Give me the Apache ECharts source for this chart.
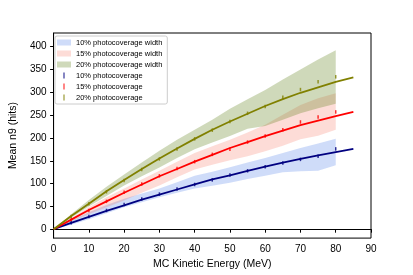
<!DOCTYPE html>
<html><head><meta charset="utf-8">
<script src="https://cdn.jsdelivr.net/npm/echarts@6/dist/echarts.min.js"></script>
<style>html,body{margin:0;padding:0;background:#fff}#c{width:413px;height:275px}</style>
</head><body><div id="c"></div>
<script>
// ---- data ----
const bandX  = [0,5,10,15,20,25,30,35,40,45,50,55,60,65,70,75,80];
const pointX = [5,10,15,20,25,30,35,40,45,50,55,60,65,70,75,80];
const fitX   = [0,5,10,15,20,25,30,35,40,45,50,55,60,65,70,75,80,85];

const labels = ['10% photocoverage','15% photocoverage','20% photocoverage'];
const bandLabels = ['10% photocoverage width','15% photocoverage width','20% photocoverage width'];

const pts10 = [14,28,41,54,66,77,88,98,108,119,128,137,145,153,160,176];
const pts15 = [21,41,61,81,99,117,133,148,164,175,191,204,218,235,246,257];
const pts20 = [28,56,82,107,131,154,176,198,217,236,254,269,289,306,323,334];

const fit10 = [0,14,27,40,52,65,76,87,98,109,118,128,137,146,154,162,169,176];
const fit15 = [0,21,42,61,80,98,116,132,148,163,178,191,204,216,228,238,248,257];
const fit20 = [0,29,56,83,108,132,155,177,198,218,236,253,270,285,299,311,323,333];

const lo10 = [0,10,22,35,48,59,70,80,89,95,102,110,117,125,127,128,140];
const hi10 = [0,19,37,53,67,78,89,103,117,126,136,146,156,167,178,188,198];
const lo15 = [0,17,33,48,63,80,96,114,131,141,151,160,171,183,197,205,218];
const hi15 = [0,24,48,70,89,109,128,148,167,182,196,212,229,251,272,287,298];
const lo20 = [0,25,50,73,96,116,135,156,175,190,204,220,226,240,254,265,275];
const hi20 = [0,33,64,93,120,146,172,196,218,240,264,285,305,328,350,372,392];

const xTicks = [0,10,20,30,40,50,60,70,80,90];
const yTicks = [0,50,100,150,200,250,300,350,400];
// --------------------------------------

const FONT = 'Liberation Sans';
const lineCol = ['#000080','#ff0000','#808000'];
const bandCol = ['rgba(70,120,230,0.26)','rgba(245,95,75,0.22)','rgba(95,130,25,0.30)'];

const pair = (xs, ys) => xs.map((x,i)=>[x, ys[i]]);

function band(name, lo, hi, col){
  return {
    type:'custom', name, coordinateSystem:'cartesian2d', clip:true, silent:true, z:1,
    itemStyle:{color:col},
    data: bandX.map((x,i)=>[x, lo[i], hi[i]]),
    encode:{x:0, y:[1,2]},
    renderItem(params, api){
      if (params.dataIndex !== 0) return null;
      const pts = [];
      for (let i=0;i<bandX.length;i++) pts.push(api.coord([bandX[i], hi[i]]));
      for (let i=bandX.length-1;i>=0;i--) pts.push(api.coord([bandX[i], lo[i]]));
      return {type:'polygon', shape:{points:pts}, style:{fill:col, stroke:null}};
    }
  };
}

const series = [
  band(bandLabels[0], lo10, hi10, bandCol[0]),
  band(bandLabels[1], lo15, hi15, bandCol[1]),
  band(bandLabels[2], lo20, hi20, bandCol[2]),
];
[fit10, fit15, fit20].forEach((f,i)=>{
  series.push({type:'line', name: labels[i]+'_fit', data: pair(fitX, f), showSymbol:false, symbol:'none',
    lineStyle:{color:lineCol[i], width:1.8}, z:3, silent:true});
});
[pts10, pts15, pts20].forEach((p,i)=>{
  series.push({type:'scatter', name: labels[i], data: pair(pointX, p), symbol:'rect', symbolSize:[1.5,3.5],
    itemStyle:{color:lineCol[i]}, z:4, silent:true});
});

const barIcon = 'path://M0,0L2,0L2,10L0,10Z';
const legendData = [
  ...bandLabels.map((n,i)=>({name:n, icon:'rect', itemStyle:{color:bandCol[i], borderWidth:0}})),
  ...labels.map((n,i)=>({name:n, icon:barIcon, itemStyle:{color:lineCol[i], borderWidth:0}}))
];

const chart = echarts.init(document.getElementById('c'), null, {renderer:'canvas'});
chart.setOption({
  animation:false,
  backgroundColor:'#fff',
  textStyle:{fontFamily:FONT},
  grid:{left:51, right:42, top:33, bottom:35, show:true, borderColor:'#000', borderWidth:1, backgroundColor:'transparent'},
  legend:{
    orient:'vertical', left:55, top:36, padding:[1,5,1,2],
    itemWidth:14, itemHeight:6, itemGap:0,
    backgroundColor:'#fff', borderColor:'#cccccc', borderWidth:1, borderRadius:2,
    textStyle:{fontFamily:FONT, fontSize:7.5, lineHeight:11, color:'#000'},
    data: legendData, selectedMode:false
  },
  xAxis:{
    type:'value', min:0, max:90, interval:10,
    name:'MC Kinetic Energy (MeV)', nameLocation:'middle', nameGap:18,
    nameTextStyle:{fontFamily:FONT, fontSize:10.5, color:'#000'},
    axisLine:{lineStyle:{color:'#000', width:1}},
    axisTick:{show:true, length:3.5, lineStyle:{color:'#000'}, customValues:xTicks},
    axisLabel:{fontFamily:FONT, fontSize:10, color:'#000', margin:6, customValues:xTicks},
    splitLine:{show:false}
  },
  yAxis:{
    type:'value', min:-19.5, max:430,
    name:'Mean n9 (hits)', nameLocation:'middle', nameGap:26,
    nameTextStyle:{fontFamily:FONT, fontSize:10.5, color:'#000'},
    axisLine:{show:true, lineStyle:{color:'#000', width:1}},
    axisTick:{show:true, length:3.5, lineStyle:{color:'#000'}, customValues:yTicks},
    axisLabel:{fontFamily:FONT, fontSize:10, color:'#000', margin:7, customValues:yTicks},
    splitLine:{show:false}
  },
  series
});
</script>
</body></html>
